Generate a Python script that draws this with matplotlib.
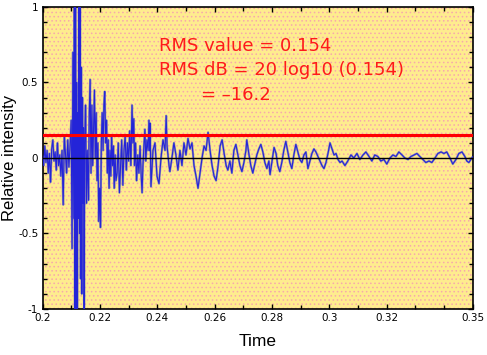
import numpy as np
import matplotlib
matplotlib.use("Agg")
import matplotlib.pyplot as plt
from matplotlib.patches import Rectangle

# decaying waveform (time in s, relative intensity)
time = [
    0.2000, 0.2004, 0.2008, 0.2012, 0.2016, 0.2020, 0.2024, 0.2028, 0.2032, 0.2036,
    0.2040, 0.2044, 0.2048, 0.2052, 0.2056, 0.2060, 0.2064, 0.2068, 0.2072, 0.2076,
    0.2080, 0.2084, 0.2088, 0.2092, 0.2096,
    0.2100, 0.2103, 0.2106, 0.2109, 0.2111, 0.2113, 0.2115, 0.2117, 0.2119, 0.2121,
    0.2123, 0.2125, 0.2127, 0.2129, 0.2131, 0.2133, 0.2135, 0.2137, 0.2139, 0.2141,
    0.2143, 0.2145, 0.2147, 0.2150, 0.2153,
    0.2156, 0.2160, 0.2163, 0.2166, 0.2169, 0.2172, 0.2175, 0.2178, 0.2181, 0.2184,
    0.2187, 0.2190, 0.2193, 0.2196, 0.2199, 0.2202, 0.2205, 0.2208, 0.2211, 0.2214,
    0.2217, 0.2220, 0.2223, 0.2226, 0.2229, 0.2232, 0.2235, 0.2238, 0.2241, 0.2244,
    0.2247, 0.2250, 0.2253, 0.2256,
    0.2260, 0.2264, 0.2268, 0.2272, 0.2276, 0.2280, 0.2284, 0.2288, 0.2292, 0.2296,
    0.2300, 0.2304, 0.2308, 0.2312, 0.2315, 0.2318, 0.2321, 0.2324, 0.2328, 0.2332,
    0.2336, 0.2340, 0.2344, 0.2347, 0.2350, 0.2354, 0.2357, 0.2360, 0.2364, 0.2368,
    0.2371, 0.2374,
    0.2375, 0.2378, 0.2385, 0.2392, 0.2399, 0.2406, 0.2413, 0.2420, 0.2427, 0.2431,
    0.2434, 0.2441, 0.2444, 0.2451, 0.2458, 0.2465, 0.2472, 0.2479, 0.2486, 0.2493,
    0.2500, 0.2507, 0.2514, 0.2521, 0.2528, 0.2535, 0.2542, 0.2549, 0.2556, 0.2563,
    0.2570, 0.2577, 0.2584, 0.2591, 0.2598, 0.2605, 0.2612, 0.2619, 0.2626, 0.2633,
    0.2640, 0.2646, 0.2653, 0.2660, 0.2667, 0.2674, 0.2681, 0.2688, 0.2695, 0.2702,
    0.2709, 0.2712, 0.2719, 0.2726, 0.2733, 0.2740, 0.2747, 0.2754, 0.2761, 0.2768,
    0.2775, 0.2782, 0.2789,
    0.2793, 0.2800, 0.2807, 0.2814, 0.2820, 0.2827, 0.2834, 0.2841, 0.2848, 0.2855,
    0.2862, 0.2869, 0.2876, 0.2883, 0.2890, 0.2897, 0.2904, 0.2911, 0.2918, 0.2925,
    0.2932, 0.2939, 0.2946, 0.2953, 0.2960, 0.2967, 0.2974, 0.2981, 0.2988, 0.2995,
    0.3002, 0.3009, 0.3016, 0.3023, 0.3030, 0.3037, 0.3044, 0.3054, 0.3064, 0.3075,
    0.3085, 0.3096, 0.3106, 0.3117, 0.3127, 0.3138, 0.3148, 0.3158, 0.3169, 0.3179,
    0.3190, 0.3200, 0.3211, 0.3221, 0.3232, 0.3242, 0.3253, 0.3263, 0.3274, 0.3284,
    0.3295, 0.3305, 0.3315, 0.3326, 0.3336, 0.3347, 0.3357, 0.3368, 0.3378, 0.3389,
    0.3399, 0.3409, 0.3420, 0.3430, 0.3441, 0.3451, 0.3462, 0.3472, 0.3479, 0.3486,
    0.3493, 0.3500,
]
intensity = [
    0.02, -0.05, 0.08, -0.03, 0.05, -0.10, 0.03, -0.16, 0.06, 0.12,
    -0.02, 0.04, -0.08, 0.10, -0.05, 0.02, -0.12, 0.05, -0.31, 0.14,
    0.03, -0.10, 0.12, -0.06, 0.08,
    0.25, -0.60, 0.70, -0.40, 1.40, -1.30, 1.20, -1.40, 0.50, -1.10,
    0.30, -0.40, 1.30, -0.50, 1.20, -0.80, 0.60, -0.90, 0.40, -0.30,
    0.20, -1.10, 0.10, 0.35, -0.30,
    0.05, -0.28, 0.30, 0.52, -0.10, 0.35, -0.05, 0.20, 0.45, 0.00,
    0.30, -0.15, 0.10, -0.42, -0.20, -0.46, 0.10, 0.30, 0.05, 0.35,
    0.44, 0.10, 0.25, -0.10, 0.12, -0.20, 0.05, -0.12, 0.15, -0.05,
    0.08, -0.20, 0.02, -0.15,
    -0.10, 0.10, -0.23, -0.05, 0.12, -0.18, 0.05, 0.15, -0.08, 0.10,
    -0.02, 0.18, -0.05, 0.35, 0.10, 0.26, -0.05, 0.10, -0.15, 0.02,
    -0.10, 0.08, -0.12, -0.23, -0.05, 0.10, 0.19, -0.02, 0.12, 0.05,
    0.25, 0.05,
    0.23, -0.19, 0.05, 0.10, -0.12, -0.17, 0.00, 0.12, 0.05, 0.28,
    0.08, -0.05, -0.09, 0.00, 0.10, 0.02, -0.08, 0.05, -0.05, 0.10,
    0.02, 0.13, 0.06, 0.10, -0.05, -0.12, -0.20, -0.10, 0.00, 0.08,
    0.05, 0.17, 0.05, -0.05, -0.12, -0.15, -0.05, 0.08, 0.12, 0.03,
    -0.05, -0.08, -0.02, -0.10, 0.05, 0.09, 0.02, -0.05, -0.09, -0.03,
    0.05, 0.12, 0.03, -0.05, -0.10, -0.04, 0.02, 0.06, 0.09, 0.04,
    -0.03, -0.07, -0.02,
    -0.11, -0.02, 0.07, 0.03, -0.05, -0.09, -0.03, 0.05, 0.11, 0.04,
    -0.03, -0.07, 0.02, 0.09, 0.04, -0.01, -0.03, 0.02, 0.04, -0.07,
    -0.02, 0.03, 0.06, 0.04, 0.01, -0.02, -0.05, -0.07, -0.03, 0.03,
    0.10, 0.06, 0.02, 0.03, -0.01, -0.03, -0.02, -0.05, -0.02, 0.02,
    0.00, 0.03, -0.01, 0.02, 0.04, 0.01, -0.02, 0.02, 0.01, -0.02,
    -0.01, -0.04, 0.00, 0.02, 0.01, 0.04, 0.02, 0.00, -0.01, 0.01,
    0.02, 0.03, 0.01, -0.01, -0.03, -0.02, -0.03, 0.00, 0.03, 0.04,
    0.03, 0.04, 0.00, -0.04, -0.01, 0.03, 0.04, 0.01, -0.02, -0.03,
    -0.01, 0.01,
]
rms_value = 0.154
rms_db = -16.2

x_ticks = [0.2, 0.22, 0.24, 0.26, 0.28, 0.3, 0.32, 0.35]
x_ticklabels = ["0.2", "0.22", "0.24", "0.26", "0.28", "0.3", "0.32", "0.35"]
y_ticks = [-1, -0.5, 0, 0.5, 1]
y_ticklabels = ["-1", "-0.5", "0", "0.5", "1"]

fig = plt.figure(figsize=(4.87, 3.55), dpi=100)
ax = fig.add_axes([0.0873, 0.1296, 0.8837, 0.8507])

# dithered yellow/pink background
ax.set_facecolor("#feec8e")
plt.rcParams["hatch.color"] = "#f7a8ac"
plt.rcParams["hatch.linewidth"] = 0.6
ax.add_patch(Rectangle((0, 0), 1, 1, transform=ax.transAxes, facecolor="none",
                       edgecolor="#f7a8ac", hatch="....", lw=0, zorder=0))

t = np.array(time); y = np.array(intensity)
ax.plot(t, y, color="#7f7fb8", lw=1.6, alpha=0.8, zorder=2)
ax.plot(t, y, color="#2424d8", lw=0.8, zorder=3)
ax.axhline(0, color="black", lw=1.0, zorder=4)
ax.axhline(rms_value, color="#ff0000", lw=2.2, zorder=5)

red = "#ff1a1a"
ax.text(0.2406, 0.707, f"RMS value = {rms_value}", color=red, fontsize=13,
        va="baseline", zorder=6)
ax.text(0.2406, 0.547, f"RMS dB = 20 log10 ({rms_value})", color=red, fontsize=13,
        va="baseline", zorder=6)
ax.text(0.2552, 0.387, f"= \u2013{abs(rms_db)}", color=red, fontsize=13,
        va="baseline", zorder=6)

ax.set_xlim(0.2, 0.35); ax.set_ylim(-1, 1)
ax.set_xticks(x_ticks); ax.set_xticklabels(x_ticklabels)
ax.set_yticks(y_ticks); ax.set_yticklabels(y_ticklabels)
ax.set_xticks(np.round(np.arange(0.2, 0.3501, 0.01), 2), minor=True)
ax.set_yticks(np.round(np.arange(-1, 1.001, 0.1), 1), minor=True)
ax.tick_params(which="both", direction="in", top=True, right=True, labelsize=7.5, pad=3)
ax.tick_params(which="major", length=3.6, width=1)
ax.tick_params(which="minor", length=3.0, width=1)
for s in ax.spines.values():
    s.set_linewidth(1.2)

ax.set_xlabel("Time", fontsize=12.5, family="Liberation Sans", labelpad=8)
ax.set_ylabel("Relative intensity", fontsize=12, family="Liberation Sans", labelpad=1)

fig.savefig("out.png", dpi=100)
